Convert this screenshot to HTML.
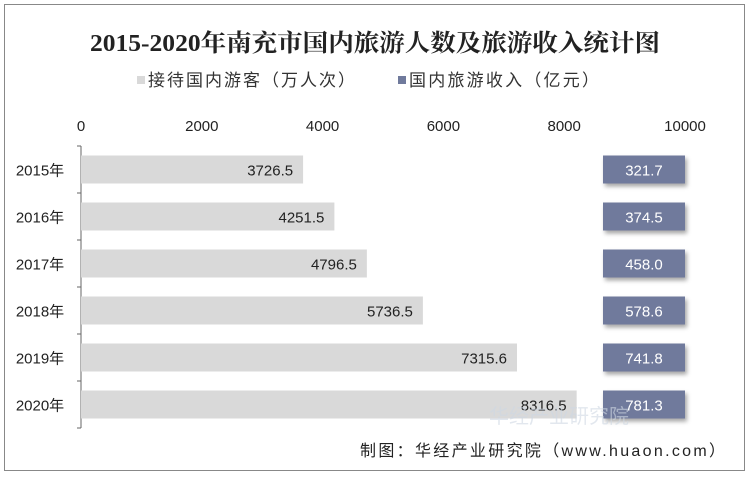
<!DOCTYPE html>
<html><head><meta charset="utf-8"><style>
body{margin:0;background:#fff;font-family:"Liberation Sans","Noto Sans CJK SC",sans-serif;}
</style></head><body>
<svg width="750" height="479" viewBox="0 0 750 479">
<defs><filter id="sh" x="-20%" y="-20%" width="150%" height="160%"><feDropShadow dx="2" dy="3" stdDeviation="2" flood-color="#000" flood-opacity="0.35"/></filter></defs>
<rect x="4.5" y="4.5" width="740" height="466" fill="#fff" stroke="#888"/>
<text x="375" y="51" text-anchor="middle" textLength="570" lengthAdjust="spacingAndGlyphs" font-family="Liberation Serif,'Noto Serif CJK SC',serif" font-weight="bold" font-size="24" fill="#222">2015-2020年南充市国内旅游人数及旅游收入统计图</text>
<g font-size="17" fill="#333">
<rect x="137" y="76" width="8" height="8" fill="#d9d9d9"/>
<text x="148" y="86" textLength="207">接待国内游客（万人次）</text>
<rect x="398" y="76" width="8" height="8" fill="#707a9c"/>
<text x="409" y="86" textLength="190">国内旅游收入（亿元）</text>
</g>
<g id="ax"></g>
<g id="yax"></g>
<g id="bars"></g>
<text x="489" y="423" font-size="20" fill="#cfd8e3" opacity="0.6">华经产业研究院</text>
<text x="725" y="456" text-anchor="end" textLength="365" font-size="16" fill="#222">制图：华经产业研究院（www.huaon.com）</text>
</svg>
<script>
const categories=["2015年","2016年","2017年","2018年","2019年","2020年"];
const visitors=[3726.5,4251.5,4796.5,5736.5,7315.6,8316.5];
const income=[321.7,374.5,458.0,578.6,741.8,781.3];
const ticks=[0,2000,4000,6000,8000,10000];
const NS="http://www.w3.org/2000/svg";
const x0=81,yTop=146,step=47;
const xs=v=>x0+(v/10000)*596;
const xt=v=>x0+(v/10000)*604;
const yc=i=>yTop+step*i+step/2;
function mk(t,a,p){const e=document.createElementNS(NS,t);for(const k in a)e.setAttribute(k,a[k]);p.appendChild(e);return e;}
const ax=document.getElementById('ax'),yax=document.getElementById('yax'),bars=document.getElementById('bars');
ticks.forEach(t=>{const e=mk('text',{x:xt(t),y:131,'text-anchor':'middle','font-size':15,fill:'#222'},ax);e.textContent=t;

});
const l=mk('line',{x1:x0,x2:x0,y1:yTop,y2:yTop+step*categories.length,stroke:'#666'},yax);


for(let i=0;i<=categories.length;i++){const t=mk('line',{x1:x0-4,x2:x0,y1:yTop+step*i,y2:yTop+step*i,stroke:'#666'},yax);

}
categories.forEach((c,i)=>{
const tl=mk('text',{x:40,y:yc(i)+6,'text-anchor':'middle','font-size':15,fill:'#222'},yax);tl.textContent=c;


const b=mk('rect',{x:x0,y:yc(i)-14,width:xs(visitors[i])-x0,height:28,fill:'#d9d9d9'},bars);


const bl=mk('text',{x:xs(visitors[i])-10,y:yc(i)+6,'text-anchor':'end','font-size':15,fill:'#222'},bars);bl.textContent=visitors[i].toFixed(1);


const r=mk('rect',{x:603,y:yc(i)-14,width:82,height:28,fill:'#707a9c',filter:'url(#sh)'},bars);


const rl=mk('text',{x:644,y:yc(i)+6,'text-anchor':'middle','font-size':15,fill:'#fff'},bars);rl.textContent=income[i].toFixed(1);


});
</script>
</body></html>
